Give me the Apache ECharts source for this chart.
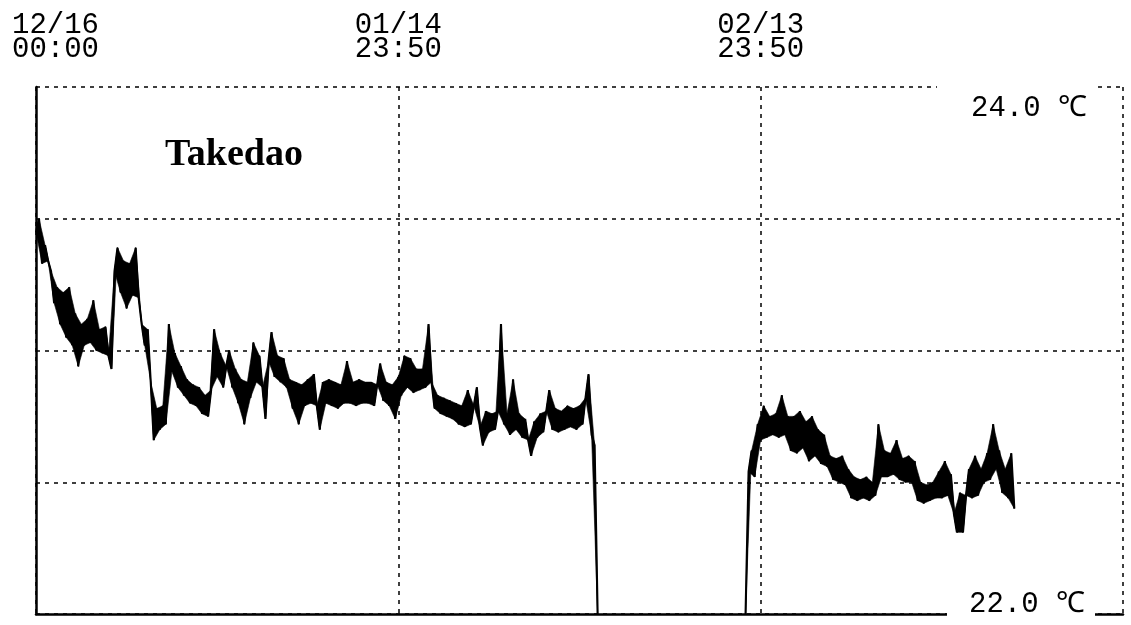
<!DOCTYPE html>
<html>
<head>
<meta charset="utf-8">
<title>Takedao water temperature</title>
<style>
  html, body { margin: 0; padding: 0; background: #fff; }
  #chart { width: 1131px; height: 625px; }
</style>
<script src="https://cdn.jsdelivr.net/npm/echarts@6/dist/echarts.min.js"></script>
</head>
<body>
<div id="chart"></div>
<script>
// Logger record, Takedao: temperature in °C, one reading every 6 hours.
// Day 0 = 12/16 00:00.
const STEP_DAYS = 0.25;

// First deployment, from 12/16 00:00 until the logger was pulled (~01/31).
const seg1StartDay = 0;
const seg1Values = [
  23.45, 23.50, 23.33, 23.40, 23.34, 23.30, 23.18, 23.24, 23.10, 23.22,
  23.05, 23.24, 23.02, 23.14, 22.94, 23.10, 23.02, 23.12, 23.03, 23.19,
  23.00, 23.08, 22.99, 23.09, 22.98, 22.93, 23.30, 23.39, 23.22, 23.34,
  23.16, 23.33, 23.21, 23.39, 23.20, 23.10, 23.02, 23.08, 22.88, 22.66,
  22.78, 22.70, 22.79, 22.72, 23.10, 22.92, 22.99, 22.86, 22.94, 22.83,
  22.89, 22.80, 22.87, 22.79, 22.86, 22.76, 22.83, 22.75, 22.85, 23.08,
  22.90, 22.99, 22.86, 22.94, 23.00, 22.86, 22.93, 22.80, 22.89, 22.72,
  22.88, 22.82, 23.03, 22.88, 22.98, 22.86, 22.74, 22.96, 23.07, 22.90,
  22.98, 22.88, 22.97, 22.86, 22.89, 22.78, 22.88, 22.72, 22.87, 22.79,
  22.89, 22.80, 22.91, 22.79, 22.70, 22.88, 22.80, 22.89, 22.79, 22.88,
  22.78, 22.87, 22.80, 22.96, 22.80, 22.88, 22.79, 22.89, 22.80, 22.88,
  22.80, 22.88, 22.79, 22.87, 22.95, 22.81, 22.88, 22.79, 22.87, 22.74,
  22.90, 22.83, 22.98, 22.86, 22.97, 22.84, 22.93, 22.85, 22.93, 22.86,
  23.10, 22.88, 22.78, 22.83, 22.76, 22.82, 22.75, 22.81, 22.74, 22.80,
  22.72, 22.79, 22.71, 22.85, 22.72, 22.79, 22.86, 22.71, 22.64, 22.77,
  22.69, 22.76, 22.70, 22.77, 23.10, 22.72, 22.76, 22.68, 22.89, 22.70,
  22.76, 22.67, 22.74, 22.66, 22.60, 22.73, 22.67, 22.76, 22.69, 22.77,
  22.85, 22.70, 22.78, 22.69, 22.77, 22.70, 22.79, 22.71, 22.78, 22.70,
  22.79, 22.72, 22.82, 22.91, 22.68, 22.64, 22.00
];

// Second deployment, from ~02/13 until ~03/07.
const seg2StartDay = 58.75;
const seg2Values = [
  22.00, 22.54, 22.62, 22.52, 22.72, 22.66, 22.79, 22.67, 22.75, 22.68,
  22.76, 22.67, 22.83, 22.68, 22.75, 22.62, 22.75, 22.61, 22.77, 22.63,
  22.73, 22.58, 22.75, 22.60, 22.70, 22.57, 22.68, 22.56, 22.60, 22.51,
  22.59, 22.50, 22.60, 22.49, 22.55, 22.44, 22.52, 22.43, 22.51, 22.44,
  22.52, 22.43, 22.50, 22.45, 22.72, 22.52, 22.62, 22.52, 22.61, 22.53,
  22.66, 22.51, 22.59, 22.50, 22.60, 22.50, 22.58, 22.43, 22.50, 22.42,
  22.49, 22.43, 22.50, 22.44, 22.54, 22.44, 22.58, 22.45, 22.53, 22.38,
  22.31, 22.46, 22.31, 22.45, 22.55, 22.44, 22.60, 22.45, 22.55, 22.50,
  22.61, 22.51, 22.72, 22.55, 22.62, 22.46, 22.55, 22.44, 22.61, 22.40
];

// Time axis labels, one per 30-day grid line.
const tickDates = ['12/16', '01/14', '02/13'];
const tickTimes = ['00:00', '23:50', '23:50'];
const TICK_DAYS = 30;
const X_MAX_DAYS = 90;

// Temperature range and the two labelled limits.
const Y_MIN = 22.0;
const Y_MAX = 24.0;
const Y_STEP = 0.5;
const UNIT = '℃';

const BLACK = '#000';
const DOTTED = { color: BLACK, width: 1.5, type: [4, 5] };

function toPoints(startDay, values) {
  return values.map((v, i) => [startDay + i * STEP_DAYS, v]);
}

const seg1Points = toPoints(seg1StartDay, seg1Values);
const seg2Points = toPoints(seg2StartDay, seg2Values);

// The trace swings between the high and low side of the readings; shading each
// run of three successive readings fills the band the way a dense logger plot does.
function bandSeries(points) {
  return {
    type: 'custom',
    coordinateSystem: 'cartesian2d',
    xAxisIndex: 0,
    yAxisIndex: 0,
    silent: true,
    z: 2,
    data: points,
    encode: { x: 0, y: 1 },
    renderItem: function (params, api) {
      const i = params.dataIndex;
      if (i < 2) return null;
      const a = api.coord(points[i - 2]);
      const b = api.coord(points[i - 1]);
      const c = api.coord(points[i]);
      return {
        type: 'polygon',
        shape: { points: [a, b, c] },
        style: { fill: BLACK, stroke: BLACK, lineWidth: 0.6 }
      };
    }
  };
}

function traceSeries(points) {
  return {
    type: 'line',
    xAxisIndex: 0,
    yAxisIndex: 0,
    data: points,
    showSymbol: false,
    sampling: null,
    silent: true,
    z: 3,
    lineStyle: { color: BLACK, width: 2.1 }
  };
}

const chart = echarts.init(document.getElementById('chart'), null, { renderer: 'canvas' });

chart.setOption({
  animation: false,
  backgroundColor: '#fff',
  title: {
    text: 'Takedao',
    left: 165,
    top: 136,
    padding: 0,
    textStyle: {
      fontFamily: 'Liberation Serif',
      fontWeight: 'bold',
      fontSize: 38,
      color: BLACK
    }
  },
  grid: { left: 36, right: 8, top: 87, bottom: 11, containLabel: false, outerBoundsMode: 'none' },
  xAxis: [
    {
      type: 'value',
      position: 'top',
      min: 0,
      max: X_MAX_DAYS,
      interval: TICK_DAYS,
      axisLine: { show: false },
      axisTick: { show: false },
      splitLine: { show: true, lineStyle: DOTTED },
      axisLabel: {
        margin: 26,
        color: BLACK,
        fontFamily: 'Liberation Mono',
        fontSize: 29,
        lineHeight: 24,
        formatter: function (v) {
          const k = Math.round(v / TICK_DAYS);
          if (k >= tickDates.length) return '';
          const s = k === 0 ? 'first' : 'tick';
          return '{' + s + '|' + tickDates[k] + '}\n{' + s + '|' + tickTimes[k] + '}';
        },
        rich: {
          first: { fontFamily: 'Liberation Mono', fontSize: 29, lineHeight: 24, color: BLACK, padding: [0, 0, 0, 39] },
          tick: { fontFamily: 'Liberation Mono', fontSize: 29, lineHeight: 24, color: BLACK }
        }
      }
    },
    {
      type: 'value',
      position: 'bottom',
      min: 0,
      max: X_MAX_DAYS,
      interval: TICK_DAYS,
      axisLine: { show: true, onZero: false, lineStyle: { color: BLACK, width: 2.5 } },
      axisTick: { show: false },
      axisLabel: { show: false },
      splitLine: { show: false }
    }
  ],
  yAxis: [
    {
      type: 'value',
      position: 'left',
      min: Y_MIN,
      max: Y_MAX,
      interval: Y_STEP,
      axisLine: { show: true, onZero: false, lineStyle: { color: BLACK, width: 2.5 } },
      axisTick: { show: false },
      axisLabel: { show: false },
      splitLine: { show: true, lineStyle: DOTTED }
    },
    {
      type: 'value',
      position: 'right',
      min: Y_MIN,
      max: Y_MAX,
      interval: Y_STEP,
      z: 10,
      axisLine: { show: false },
      axisTick: { show: false },
      splitLine: { show: false },
      axisLabel: {
        inside: true,
        margin: 28,
        color: BLACK,
        fontFamily: 'Liberation Mono',
        fontSize: 29,
        lineHeight: 28,
        formatter: function (v) {
          const text = v.toFixed(1) + ' ' + UNIT;
          if (v === Y_MAX) return '{hi|' + text + '}';
          if (v === Y_MIN) return '{lo|' + text + '}';
          return '';
        },
        rich: {
          hi: { fontFamily: 'Liberation Mono', fontSize: 29, lineHeight: 28, color: BLACK, backgroundColor: '#fff', padding: [42, 8, 0, 34] },
          lo: { fontFamily: 'Liberation Mono', fontSize: 29, lineHeight: 28, color: BLACK, backgroundColor: '#fff', padding: [0, 10, 19, 22] }
        }
      }
    }
  ],
  series: [
    bandSeries(seg1Points),
    bandSeries(seg2Points),
    traceSeries(seg1Points),
    traceSeries(seg2Points)
  ]
});
</script>
</body>
</html>
